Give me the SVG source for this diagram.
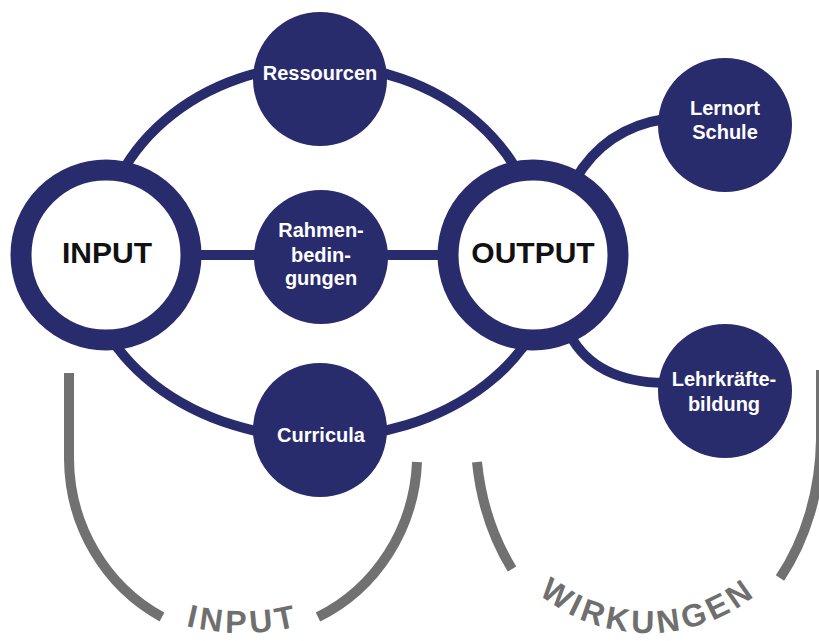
<svg xmlns="http://www.w3.org/2000/svg" width="819" height="641" viewBox="0 0 819 641">
<style>
.bg{fill:#ffffff}
.conn{fill:none;stroke:#282b6c;stroke-width:10}
.ring{fill:#ffffff;stroke:#282b6c;stroke-width:21}
.dot{fill:#282b6c}
.big{font-family:"Liberation Sans",Arial,sans-serif;font-weight:bold;font-size:30px;fill:#111111;text-anchor:middle}
.lbl{font-family:"Liberation Sans",Arial,sans-serif;font-weight:bold;font-size:20px;fill:#ffffff;text-anchor:middle}
.brk{fill:none;stroke:#717171;stroke-width:10}
.arc{font-family:"Liberation Sans",Arial,sans-serif;font-weight:bold;font-size:32px;fill:#6f6f6f;letter-spacing:4px}
</style>
<defs>
<path id="pIn" d="M 11 401 A 232 232 0 0 0 475 401"/>
<path id="pWi" d="M 476 461 A 172 172 0 0 0 820 461"/>
</defs>
<rect class="bg" x="0" y="0" width="819" height="641"/>
<g id="connectors">
<path class="conn" d="M 100 255 A 220 190 0 0 1 540 255"/>
<path class="conn" d="M 555 255 A 235 183 0 0 1 85 255"/>
<line class="conn" x1="106" y1="255" x2="533" y2="255"/>
<path class="conn" d="M 575 180 Q 605 128 665 119"/>
<path class="conn" d="M 570 335 Q 595 382 665 383"/>
</g>
<g id="brackets">
<path class="brk" d="M 69 373 L 69 459 A 174 180 0 0 0 162 617"/>
<path class="brk" d="M 417 462 A 174 180 0 0 1 318 617"/>
<path class="brk" d="M 477 462 A 172 219 0 0 0 512 569"/>
<path class="brk" d="M 821 370 L 821 439 A 172 219 0 0 1 780 578"/>
<text class="arc"><textPath href="#pIn" startOffset="50%" text-anchor="middle">INPUT</textPath></text>
<text class="arc"><textPath href="#pWi" startOffset="50%" text-anchor="middle">WIRKUNGEN</textPath></text>
</g>
<g id="input">
<circle class="ring" cx="106" cy="255" r="85"/>
<text class="big" x="107" y="263">INPUT</text>
</g>
<g id="output">
<circle class="ring" cx="533" cy="255" r="85"/>
<text class="big" x="533" y="263">OUTPUT</text>
</g>
<g id="ressourcen">
<circle class="dot" cx="320" cy="79" r="67"/>
<text class="lbl" x="320" y="80">Ressourcen</text>
</g>
<g id="rahmenbedingungen">
<circle class="dot" cx="321" cy="257" r="67"/>
<text class="lbl" x="321" y="237">Rahmen-</text>
<text class="lbl" x="321" y="262">bedin-</text>
<text class="lbl" x="321" y="285">gungen</text>
</g>
<g id="curricula">
<circle class="dot" cx="320" cy="430" r="67"/>
<text class="lbl" x="321" y="442">Curricula</text>
</g>
<g id="lernort">
<circle class="dot" cx="725" cy="125" r="67"/>
<text class="lbl" x="725" y="115">Lernort</text>
<text class="lbl" x="725" y="139">Schule</text>
</g>
<g id="lehrkraefte">
<circle class="dot" cx="725" cy="391" r="67"/>
<text class="lbl" x="724" y="386">Lehrkräfte-</text>
<text class="lbl" x="724" y="411">bildung</text>
</g>
</svg>
